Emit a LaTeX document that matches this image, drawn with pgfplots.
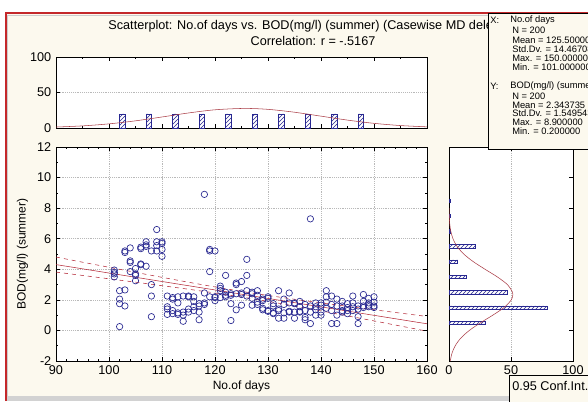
\documentclass[border=0pt]{standalone}
\usepackage{fontspec}
\setmainfont{Liberation Sans}
\usepackage{pgfplots}
\pgfplotsset{compat=1.18}
\usetikzlibrary{patterns}

\definecolor{bgcream}{RGB}{252,249,238}
\definecolor{framered}{RGB}{196,40,42}
\definecolor{ptblue}{RGB}{40,40,145}
\definecolor{fitred}{RGB}{180,40,55}
\definecolor{curvered}{RGB}{170,60,70}

\pgfplotsset{
  statstyle/.style={
    scale only axis,
    anchor=south west,
    axis background/.style={fill=white},
    tick align=inside,
    tick style={black,thin},
    major tick length=3pt,
    minor tick length=1.5pt,
    tick label style={font=\fontsize{9.5}{10}\selectfont},
    /pgf/number format/assume math mode=true,
    grid style={densely dotted,gray!55},
    axis line style={black,thin},
  },
}

\begin{document}
\begin{tikzpicture}[x=0.75pt,y=0.75pt]
\useasboundingbox (0,0) rectangle (588,401);
\clip (0,0) rectangle (588,401);
% window frame
\fill[white] (0,0) rectangle (588,401);
\fill[bgcream] (5,0) rectangle (588,388);
\fill[gray!35] (5,0) rectangle (588,5);
\draw[framered,line width=1.5pt] (5.5,0) -- (5.5,387.5) -- (588,387.5);
\draw[gray!40,line width=0.6pt] (7.5,5) -- (7.5,385.5) -- (588,385.5);

% title
\node[font=\fontsize{9.5}{11}\selectfont] at (313,375) {Scatterplot: No.of days vs. BOD(mg/l) (summer) (Casewise MD deletion)};
\node[font=\fontsize{9.5}{11}\selectfont] at (313,360) {Correlation: r = -.5167};

% top histogram (No.of days)
\begin{axis}[statstyle,
  at={(42pt,204.75pt)}, width=278.25pt, height=53.25pt,
  xmin=90, xmax=160, ymin=0, ymax=100,
  xtick={90,100,...,160}, xticklabels={},
  minor x tick num=1,
  ytick={0,50,100},
  ymajorgrids, ytick pos=left,
]
\addplot[ybar, bar width=3.8pt, draw=ptblue, pattern=north east lines, pattern color=ptblue]
coordinates {(102.5,20) (107.5,20) (112.5,20) (117.5,20) (122.5,20) (127.5,20) (132.5,20) (137.5,20) (142.5,20) (147.5,20)};
\addplot[curvered, smooth, thin] coordinates {
(90,1.36) (95,2.99) (100,5.83) (105,10.10) (110,15.53) (115,21.19) (120,25.65) (125.5,27.57)
(130,26.27) (135,22.22) (140,16.69) (145,11.12) (150,6.57) (155,3.45) (160,1.61)};
\end{axis}

% main scatter
\begin{axis}[statstyle,
  at={(42pt,30pt)}, width=278.25pt, height=160.5pt,
  xmin=90, xmax=160, ymin=-2, ymax=12,
  xtick={90,100,...,160}, ytick={-2,0,...,12},
  minor x tick num=4, minor y tick num=1,
  xmajorgrids, ymajorgrids,
  xlabel={No.of days}, ylabel={BOD(mg/l) (summer)},
  label style={font=\fontsize{9}{10}\selectfont},
  xlabel style={yshift=2pt},
]
\addplot[only marks, mark=o, mark size=2.4pt, mark options={ptblue, line width=0.5pt}] coordinates {
(101,3.95) (101,3.8) (101,3.7) (101,3.5)
(102,2.6) (102,2.05) (102,1.75) (102,0.25)
(103,5.2) (103,5.1) (103,2.65) (103,1.6)
(104,5.4) (104,4.55) (104,4.45) (104,3.85)
(105,4.05) (105,3.7) (105,3.6) (105,3.25)
(106,5.45) (106,5.35) (106,4.35) (106,4.3)
(107,5.8) (107,5.6) (107,5.5) (107,4.2)
(108,5.2) (108,3.0) (108,2.25) (108,0.9)
(109,6.6) (109,5.8) (109,5.55) (109,5.2)
(110,5.8) (110,5.7) (110,5.3) (110,4.85)
(111,2.25) (111,1.55) (111,1.4) (111,1.05)
(112,2.15) (112,2.05) (112,1.3) (112,1.1)
(113,2.2) (113,1.8) (113,1.15) (113,1.05)
(114,2.25) (114,1.2) (114,1.0) (114,0.6)
(115,2.25) (115,2.2) (115,1.4) (115,1.2)
(116,2.2) (116,1.9) (116,1.55) (116,1.3)
(117,1.75) (117,1.6) (117,1.2) (117,0.7)
(118,8.9) (118,2.45) (118,1.8) (118,1.7)
(119,5.3) (119,5.2) (119,3.85) (119,2.2)
(120,5.2) (120,2.2) (120,2.15) (120,1.95)
(121,2.9) (121,2.75) (121,2.6) (121,2.15)
(122,3.6) (122,2.5) (122,2.3) (122,2.2)
(123,2.4) (123,2.3) (123,1.75) (123,0.65)
(124,3.1) (124,3.0) (124,2.4) (124,1.35)
(125,3.2) (125,2.45) (125,2.35) (125,1.65)
(126,4.65) (126,3.6) (126,2.6) (126,2.25)
(127,2.5) (127,2.4) (127,2.1) (127,1.65)
(128,2.6) (128,2.3) (128,1.85) (128,1.7)
(129,2.05) (129,1.95) (129,1.45) (129,1.35)
(130,2.2) (130,2.1) (130,1.3) (130,1.25)
(131,1.75) (131,1.6) (131,1.15) (131,1.1)
(132,2.6) (132,1.4) (132,1.3) (132,0.8)
(133,2.05) (133,1.7) (133,1.15) (133,0.8)
(134,2.45) (134,1.8) (134,1.25) (134,1.2)
(135,1.8) (135,1.75) (135,1.2) (135,0.8)
(136,1.9) (136,1.55) (136,1.25) (136,1.2)
(137,1.7) (137,1.3) (137,0.85) (137,0.7)
(138,7.3) (138,1.6) (138,1.2) (138,0.45)
(139,1.8) (139,1.55) (139,1.35) (139,1.0)
(140,1.8) (140,1.65) (140,1.2) (140,1.0)
(141,2.6) (141,2.2) (141,1.85) (141,1.45)
(142,2.25) (142,1.7) (142,1.3) (142,0.45)
(143,2.05) (143,1.6) (143,1.0) (143,0.45)
(144,1.9) (144,1.6) (144,1.3) (144,1.2)
(145,1.75) (145,1.5) (145,1.3) (145,1.1)
(146,2.25) (146,1.8) (146,1.55) (146,1.3)
(147,1.6) (147,1.4) (147,0.9) (147,0.45)
(148,2.35) (148,1.9) (148,1.6) (148,1.5)
(149,2.1) (149,1.8) (149,1.65) (149,1.55)
(150,2.2) (150,1.85) (150,1.6) (150,1.5)
};
% regression line and 0.95 confidence band
\addplot[fitred, thin] coordinates {(90,4.308) (160,0.435)};
\addplot[fitred, thin, dashed, smooth] coordinates {
(90,4.801) (95,4.465) (100,4.132) (105,3.800) (110,3.474) (115,3.154) (120,2.847) (125.5,2.529)
(130,2.289) (135,2.040) (140,1.804) (145,1.576) (150,1.353) (155,1.133) (160,0.915)};
\addplot[fitred, thin, dashed, smooth] coordinates {
(90,3.816) (95,3.598) (100,3.378) (105,3.156) (110,2.929) (115,2.695) (120,2.450) (125.5,2.158)
(130,1.900) (135,1.596) (140,1.278) (145,0.953) (150,0.623) (155,0.289) (160,-0.046)};
\end{axis}

% right histogram (BOD)
\begin{axis}[statstyle,
  at={(336.75pt,30pt)}, width=93pt, height=160.5pt,
  xmin=0, xmax=100, ymin=-2, ymax=12,
  xtick={0,50,100}, ytick={-2,0,...,12}, yticklabels={},
  xmajorgrids, ytick pos=right,
]
\addplot[xbar, bar width=2.6pt, draw=ptblue, pattern=north east lines, pattern color=ptblue]
coordinates {(29,0.5) (79,1.5) (47,2.5) (14,3.5) (7,4.5) (21,5.5) (1,6.5) (1,7.5) (1,8.5)};
\addplot[curvered, smooth, thin] coordinates {
(1.01,-2) (2.37,-1.5) (5.02,-1) (9.56,-0.5) (16.40,0) (25.37,0.5) (35.35,1) (44.40,1.5)
(50.25,2) (51.5,2.344) (51.24,2.5) (47.09,3) (38.99,3.5) (29.10,4) (19.57,4.5) (11.86,5)
(6.47,5.5) (3.18,6) (1.41,6.5) (0.56,7) (0.2,7.5) (0.07,8)};
\end{axis}

% statistics box
\draw[black,thin,fill=bgcream] (488,252) rectangle (600,388);
\begin{scope}[every node/.style={anchor=west,inner sep=0pt,font=\fontsize{7}{7.5}\selectfont}]
\node at (490,381) {X:};
\node at (510,381) {No.of days};
\node at (512,370.5) {N = 200};
\node at (512,361) {Mean = 125.500000};
\node at (512,352) {Std.Dv. = 14.467083};
\node at (512,343) {Max. = 150.000000};
\node at (512,334) {Min. = 101.000000};
\node at (490,315) {Y:};
\node at (510,315) {BOD(mg/l) (summer)};
\node at (512,305) {N = 200};
\node at (512,296) {Mean = 2.343735};
\node at (512,287.5) {Std.Dv. = 1.549543};
\node at (512,278.5) {Max. = 8.900000};
\node at (512,269.5) {Min. = 0.200000};
\end{scope}

% legend box
\draw[black,thin,fill=bgcream] (509,-5) rectangle (600,26);
\node[anchor=west,inner sep=0pt,font=\fontsize{9.5}{10}\selectfont] at (512,15) {0.95 Conf.Int.};
\end{tikzpicture}
\end{document}
